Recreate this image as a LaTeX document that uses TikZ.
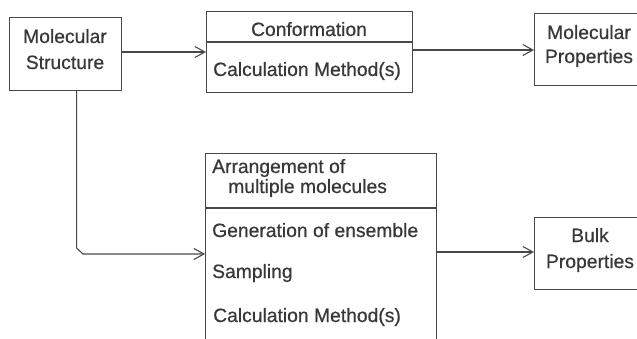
\documentclass[tikz,border=0pt]{standalone}
\usepackage{fontspec}
\setmainfont[FakeBold=0.6]{Liberation Sans}
\usetikzlibrary{arrows.meta}
\definecolor{ink}{HTML}{383838}
\definecolor{linec}{HTML}{484848}
\tikzset{
  boxc/.style={draw=linec, line width=1.1pt, rectangle, inner sep=0pt, anchor=north west},
  lbl/.style={inner sep=0pt, text=ink, font=\fontsize{19.3}{23}\selectfont},
  arr/.style={draw=linec, line width=1.1pt, -{Straight Barb[length=10pt,width=11pt,line width=1.1pt]}},
  divl/.style={draw=linec, line width=1.1pt}
}
\begin{document}
\begin{tikzpicture}[x=1pt,y=-1pt]
\useasboundingbox (0,0) rectangle (637,339);
\begin{scope}
\clip (0,0) rectangle (637,339);
% boxes
\node[boxc, minimum width=112pt, minimum height=73pt] (ms) at (9,17) {};
\node[boxc, minimum width=206pt, minimum height=81pt] (conf) at (206,11) {};
\node[boxc, minimum width=110pt, minimum height=72pt] (mp) at (534,13) {};
\node[boxc, minimum width=231pt, minimum height=200pt] (arr) at (205,153) {};
\node[boxc, minimum width=110pt, minimum height=72pt] (bulk) at (534,217) {};
% dividers
\draw[divl] (conf.west |- 0,42) -- (conf.east |- 0,42);
\draw[divl] (arr.west |- 0,208) -- (arr.east |- 0,208);
% texts
\node[lbl, anchor=base] (t1) at (65,43) {Molecular};
\node[lbl, anchor=base] (t2) at (65,69) {Structure};
\node[lbl, anchor=base] (t3) at (309,36) {Conformation};
\node[lbl, anchor=base west] (t4) at (213,76) {Calculation Method(s)};
\node[lbl, anchor=base] (t5) at (589,39) {Molecular};
\node[lbl, anchor=base] (t6) at (589,63) {Properties};
\node[lbl, anchor=base west] (t7) at (212,173) {Arrangement of};
\node[lbl, anchor=base west] (t8) at (228,193) {multiple molecules};
\node[lbl, anchor=base west] (t9) at (212,237) {Generation of ensemble};
\node[lbl, anchor=base west] (t10) at (212,278) {Sampling};
\node[lbl, anchor=base west] (t11) at (213,322) {Calculation Method(s)};
\node[lbl, anchor=base] (t12) at (590,242) {Bulk};
\node[lbl, anchor=base] (t13) at (590,268) {Properties};
% connectors
\coordinate (k) at ([xshift=11pt]ms.south);
\draw[arr] (ms.east |- 0,52) -- (conf.west |- 0,52);
\draw[arr] (conf.east |- 0,50) -- (mp.west |- 0,50);
\draw[arr] (k) -- (k |- 0,248) -- (83,254) -- (arr.west |- 0,254);
\draw[arr] (arr.east |- 0,252) -- (bulk.west |- 0,252);
\end{scope}
\end{tikzpicture}
\end{document}
